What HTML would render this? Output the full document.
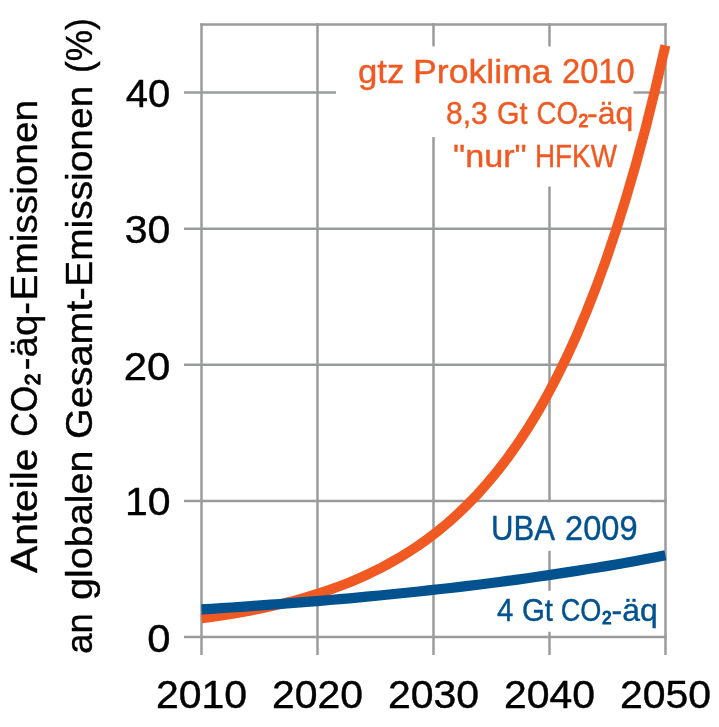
<!DOCTYPE html>
<html><head><meta charset="utf-8"><title>Anteile CO2-äq-Emissionen</title>
<style>
html,body{margin:0;padding:0;background:#fff;}
body{width:719px;height:727px;overflow:hidden;}
svg{display:block;}
text{font-family:"Liberation Sans",Arial,sans-serif;}
</style></head><body>
<svg width="719" height="727" viewBox="0 0 719 727">
<rect x="0" y="0" width="719" height="727" fill="#fff"/>
<g stroke="#9a9c9c" stroke-width="2.5" fill="none">
<line x1="184" y1="637" x2="666.75" y2="637"/>
<line x1="184" y1="500.9" x2="666.75" y2="500.9"/>
<line x1="184" y1="364.8" x2="666.75" y2="364.8"/>
<line x1="184" y1="228.7" x2="666.75" y2="228.7"/>
<line x1="184" y1="92.6" x2="666.75" y2="92.6"/>
<line x1="200.25" y1="24.6" x2="666.75" y2="24.6"/>
<line x1="201.5" y1="23.35" x2="201.5" y2="655"/>
<line x1="317.5" y1="23.35" x2="317.5" y2="655"/>
<line x1="433.5" y1="23.35" x2="433.5" y2="655"/>
<line x1="549.5" y1="23.35" x2="549.5" y2="655"/>
<line x1="665.5" y1="23.35" x2="665.5" y2="655"/>
</g>
<g fill="#fff">
<rect x="336" y="46.4" width="297.6" height="90.7"/>
<rect x="440" y="137" width="185.0" height="49.5"/>
<rect x="480" y="502.2" width="170.0" height="48.6"/>
<rect x="480" y="590.8" width="180.0" height="41.0"/>
</g>
<path d="M201.5 618.4 L211.4 617.1 L221.2 615.6 L231.1 614.0 L241.0 612.3 L250.9 610.5 L260.7 608.5 L270.6 606.4 L280.5 604.1 L290.3 601.7 L300.2 599.0 L310.1 596.1 L319.9 593.0 L329.8 589.7 L339.7 586.1 L349.6 582.3 L359.4 578.1 L369.3 573.6 L379.2 568.8 L389.0 563.5 L398.9 557.9 L408.8 551.8 L418.6 545.3 L428.5 538.3 L438.4 530.7 L448.3 522.5 L458.1 513.6 L468.0 504.1 L477.9 493.9 L487.7 482.8 L497.6 470.9 L507.5 458.0 L517.3 444.2 L527.2 429.3 L537.1 413.2 L547.0 395.8 L556.8 377.1 L566.7 357.0 L576.6 335.3 L586.4 311.9 L596.3 286.6 L606.2 259.4 L616.0 230.1 L625.9 198.5 L635.8 164.4 L645.7 127.7 L655.5 88.1 L665.4 45.4" fill="none" stroke="#f05a22" stroke-width="10" stroke-linejoin="round"/>
<path d="M201.5 609.4 L211.4 608.8 L221.2 608.1 L231.1 607.5 L241.0 606.8 L250.9 606.1 L260.7 605.4 L270.6 604.7 L280.5 604.0 L290.3 603.2 L300.2 602.4 L310.1 601.6 L319.9 600.8 L329.8 600.0 L339.7 599.1 L349.6 598.3 L359.4 597.4 L369.3 596.4 L379.2 595.5 L389.0 594.5 L398.9 593.5 L408.8 592.5 L418.6 591.5 L428.5 590.4 L438.4 589.3 L448.3 588.2 L458.1 587.1 L468.0 585.9 L477.9 584.7 L487.7 583.5 L497.6 582.2 L507.5 580.9 L517.3 579.6 L527.2 578.2 L537.1 576.8 L547.0 575.4 L556.8 573.9 L566.7 572.4 L576.6 570.9 L586.4 569.3 L596.3 567.7 L606.2 566.1 L616.0 564.4 L625.9 562.7 L635.8 560.9 L645.7 559.1 L655.5 557.2 L665.4 555.3" fill="none" stroke="#02528f" stroke-width="10.2" stroke-linejoin="round"/>
<text x="170.40" y="107.30" font-size="39.5" text-anchor="end" textLength="44.56" lengthAdjust="spacingAndGlyphs" fill="#000" stroke="#000" stroke-width="0.4">40</text>
<text x="170.40" y="243.40" font-size="39.5" text-anchor="end" textLength="45.63" lengthAdjust="spacingAndGlyphs" fill="#000" stroke="#000" stroke-width="0.4">30</text>
<text x="170.40" y="379.50" font-size="39.5" text-anchor="end" textLength="46.69" lengthAdjust="spacingAndGlyphs" fill="#000" stroke="#000" stroke-width="0.4">20</text>
<text x="170.60" y="515.00" font-size="39.5" text-anchor="end" textLength="45.61" lengthAdjust="spacingAndGlyphs" fill="#000" stroke="#000" stroke-width="0.4">10</text>
<text x="170.60" y="651.50" font-size="39.5" text-anchor="end" textLength="23.28" lengthAdjust="spacingAndGlyphs" fill="#000" stroke="#000" stroke-width="0.4">0</text>
<text x="201.50" y="708.10" font-size="38.2" text-anchor="middle" textLength="91.06" lengthAdjust="spacingAndGlyphs" fill="#000" stroke="#000" stroke-width="0.4">2010</text>
<text x="317.50" y="708.10" font-size="38.2" text-anchor="middle" textLength="91.06" lengthAdjust="spacingAndGlyphs" fill="#000" stroke="#000" stroke-width="0.4">2020</text>
<text x="433.50" y="708.10" font-size="38.2" text-anchor="middle" textLength="91.06" lengthAdjust="spacingAndGlyphs" fill="#000" stroke="#000" stroke-width="0.4">2030</text>
<text x="549.50" y="708.10" font-size="38.2" text-anchor="middle" textLength="91.06" lengthAdjust="spacingAndGlyphs" fill="#000" stroke="#000" stroke-width="0.4">2040</text>
<text x="665.50" y="708.10" font-size="38.2" text-anchor="middle" textLength="91.06" lengthAdjust="spacingAndGlyphs" fill="#000" stroke="#000" stroke-width="0.4">2050</text>
<text transform="translate(37.40 573.00) rotate(-90)" font-size="37.5" textLength="124.48" lengthAdjust="spacingAndGlyphs" fill="#000" stroke="#000" stroke-width="0.4">Anteile</text>
<text transform="translate(37.40 436.80) rotate(-90)" font-size="37.5" textLength="63.92" lengthAdjust="spacingAndGlyphs" fill="#000" stroke="#000" stroke-width="0.4">CO<tspan stroke-width="1.2">₂</tspan></text>
<text transform="translate(37.40 370.20) rotate(-90)" font-size="37.5" textLength="68.25" lengthAdjust="spacingAndGlyphs" fill="#000" stroke="#000" stroke-width="0.4">-äq-</text>
<text transform="translate(37.40 300.40) rotate(-90)" font-size="37.5" textLength="200.41" lengthAdjust="spacingAndGlyphs" fill="#000" stroke="#000" stroke-width="0.4">Emissionen</text>
<text transform="translate(91.50 653.80) rotate(-90)" font-size="37.5" textLength="40.43" lengthAdjust="spacingAndGlyphs" fill="#000" stroke="#000" stroke-width="0.4">an</text>
<text transform="translate(91.50 600.00) rotate(-90)" font-size="37.5" textLength="149.45" lengthAdjust="spacingAndGlyphs" fill="#000" stroke="#000" stroke-width="0.4">globalen</text>
<text transform="translate(91.50 439.00) rotate(-90)" font-size="37.5" textLength="151.73" lengthAdjust="spacingAndGlyphs" fill="#000" stroke="#000" stroke-width="0.4">Gesamt-</text>
<text transform="translate(91.50 286.80) rotate(-90)" font-size="37.5" textLength="201.08" lengthAdjust="spacingAndGlyphs" fill="#000" stroke="#000" stroke-width="0.4">Emissionen</text>
<text transform="translate(91.50 73.00) rotate(-90)" font-size="37.5" textLength="54.68" lengthAdjust="spacingAndGlyphs" fill="#000" stroke="#000" stroke-width="0.4">(%)</text>
<text x="358.00" y="83.10" font-size="33.6" textLength="46.28" lengthAdjust="spacingAndGlyphs" fill="#f05a22" stroke="#f05a22" stroke-width="0.4">gtz</text>
<text x="413.00" y="83.10" font-size="33.6" textLength="138.71" lengthAdjust="spacingAndGlyphs" fill="#f05a22" stroke="#f05a22" stroke-width="0.4">Proklima</text>
<text x="562.00" y="83.10" font-size="35.5" textLength="72.65" lengthAdjust="spacingAndGlyphs" fill="#f05a22" stroke="#f05a22" stroke-width="0.4">2010</text>
<text x="446.00" y="124.20" font-size="31.2" textLength="41.70" lengthAdjust="spacingAndGlyphs" fill="#f05a22" stroke="#f05a22" stroke-width="0.4">8,3</text>
<text x="497.00" y="124.20" font-size="31.2" textLength="30.49" lengthAdjust="spacingAndGlyphs" fill="#f05a22" stroke="#f05a22" stroke-width="0.4">Gt</text>
<text x="536.40" y="124.20" font-size="31.2" textLength="52.27" lengthAdjust="spacingAndGlyphs" fill="#f05a22" stroke="#f05a22" stroke-width="0.4">CO<tspan stroke-width="1.2">₂</tspan></text>
<text x="587.00" y="124.20" font-size="31.2" textLength="46.27" lengthAdjust="spacingAndGlyphs" fill="#f05a22" stroke="#f05a22" stroke-width="0.4">-äq</text>
<text x="453.00" y="166.80" font-size="31.2" textLength="73.66" lengthAdjust="spacingAndGlyphs" fill="#f05a22" stroke="#f05a22" stroke-width="0.4">"nur"</text>
<text x="535.00" y="166.80" font-size="31.2" textLength="81.98" lengthAdjust="spacingAndGlyphs" fill="#f05a22" stroke="#f05a22" stroke-width="0.4">HFKW</text>
<text x="491.00" y="540.00" font-size="34.4" textLength="64.01" lengthAdjust="spacingAndGlyphs" fill="#02528f" stroke="#02528f" stroke-width="0.4">UBA</text>
<text x="565.00" y="540.00" font-size="34.4" textLength="72.58" lengthAdjust="spacingAndGlyphs" fill="#02528f" stroke="#02528f" stroke-width="0.4">2009</text>
<text x="497.00" y="621.30" font-size="30.5" textLength="16.34" lengthAdjust="spacingAndGlyphs" fill="#02528f" stroke="#02528f" stroke-width="0.4">4</text>
<text x="522.00" y="621.30" font-size="30.5" textLength="31.02" lengthAdjust="spacingAndGlyphs" fill="#02528f" stroke="#02528f" stroke-width="0.4">Gt</text>
<text x="560.80" y="621.30" font-size="30.5" textLength="51.13" lengthAdjust="spacingAndGlyphs" fill="#02528f" stroke="#02528f" stroke-width="0.4">CO<tspan stroke-width="1.2">₂</tspan></text>
<text x="611.60" y="621.30" font-size="30.5" textLength="46.15" lengthAdjust="spacingAndGlyphs" fill="#02528f" stroke="#02528f" stroke-width="0.4">-äq</text>
</svg>
</body></html>
